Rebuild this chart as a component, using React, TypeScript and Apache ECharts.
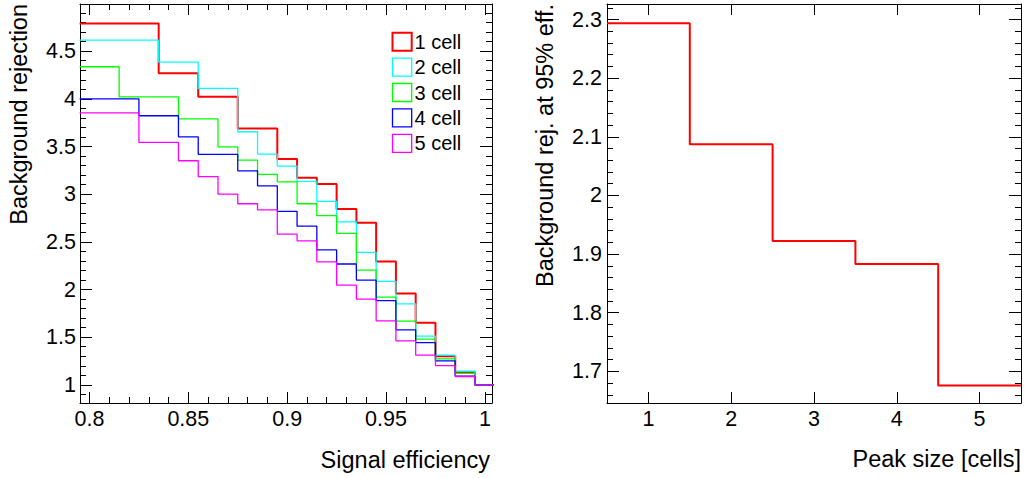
import React, { useEffect, useRef } from "react";
import * as echarts from "echarts";

// ---- data ----
const effBins = [0.8, 0.81, 0.82, 0.83, 0.84, 0.85, 0.86, 0.87, 0.88, 0.89, 0.9, 0.91, 0.92, 0.93, 0.94, 0.95, 0.96, 0.97, 0.98, 0.99, 1.0];
const cellNames = ["1 cell", "2 cell", "3 cell", "4 cell", "5 cell"];
const cellColors = ["#ff0000", "#00ffff", "#00ff00", "#0000ff", "#ff00ff"];
const rej1Cell = [4.79, 4.79, 4.79, 4.79, 4.268, 4.268, 4.022, 4.022, 3.69, 3.69, 3.368, 3.172, 3.106, 2.844, 2.7, 2.295, 1.959, 1.651, 1.301, 1.133, 1.0];
const rej2Cell = [4.617, 4.617, 4.617, 4.617, 4.386, 4.386, 4.11, 4.11, 3.655, 3.42, 3.295, 3.135, 2.925, 2.71, 2.39, 2.085, 1.85, 1.512, 1.312, 1.144, 1.0];
const rej3Cell = [4.337, 4.337, 4.02, 4.02, 4.02, 3.79, 3.79, 3.497, 3.358, 3.208, 3.13, 2.9, 2.775, 2.59, 2.204, 1.92, 1.668, 1.48, 1.273, 1.12, 1.0];
const rej4Cell = [4.0, 4.0, 4.0, 3.823, 3.823, 3.602, 3.418, 3.418, 3.245, 3.088, 2.82, 2.665, 2.417, 2.268, 2.099, 1.883, 1.578, 1.443, 1.252, 1.091, 1.0];
const rej5Cell = [3.854, 3.854, 3.854, 3.543, 3.543, 3.351, 3.185, 3.0, 2.9, 2.835, 2.581, 2.511, 2.291, 2.046, 1.9, 1.672, 1.462, 1.312, 1.203, 1.088, 1.0];
const cellSeries = [rej1Cell, rej2Cell, rej3Cell, rej4Cell, rej5Cell];
const effBinWidth = 0.01;

const peakSizes = [1, 2, 3, 4, 5];
const rejAt95 = [2.2935, 2.0875, 1.9225, 1.883, 1.676];
const peakBinWidth = 1;

const FONT = "'Liberation Sans', Arial, Helvetica, sans-serif";

function histSteps(centers: number[], values: number[], w: number) {
  const pts: number[][] = centers.map((c, i) => [c - w / 2, values[i]]);
  const last = centers.length - 1;
  pts.push([centers[last] + w / 2, values[last]]);
  return pts;
}

const roundFmt = (k: number) => (v: number) => {
  const r = Math.round(v * k) / k;
  return Math.abs(v - r) < 1e-6 ? String(r) : "";
};

export default function App() {
  const ref = useRef<HTMLDivElement>(null);
  useEffect(() => {
    if (!ref.current) return;
    const chart = echarts.init(ref.current, null, { renderer: "svg" });

    const axisLine = { show: true, lineStyle: { color: "#000", width: 1 } };
    const mkAxis = (o: any) => ({
      type: "value",
      scale: true,
      splitLine: { show: false },
      axisLine,
      ...o,
    });
    const labelStyle = { color: "#000", fontSize: 21.5, fontFamily: FONT };

    const xTicks = { show: true, inside: true, length: 11, lineStyle: { color: "#000", width: 1 } };
    const yTicks = { show: true, inside: true, length: 12, lineStyle: { color: "#000", width: 1 } };
    const minor = { show: true, splitNumber: 5, length: 6, lineStyle: { color: "#000", width: 1 } };

    const effRange = { min: 0.7952, max: 1.0036, splitNumber: 4 };
    const rejRange = { min: 0.81, max: 4.995, splitNumber: 8 };
    const peakRange = { min: 0.5, max: 5.5, splitNumber: 5 };
    const rej95Range = { min: 1.646, max: 2.3265, splitNumber: 7 };

    const legendGraphics: any[] = [];
    cellNames.forEach((name, i) => {
      const top = 32.7 + i * 25.4;
      legendGraphics.push({
        type: "rect",
        shape: { x: 392.5, y: top, width: 19.2, height: 18 },
        style: { fill: "none", stroke: cellColors[i], lineWidth: i === 0 ? 2 : 1.3 },
      });
      legendGraphics.push({
        type: "text",
        x: 414.5,
        y: top + 9,
        style: { text: name, fill: "#000", font: `20px ${FONT}`, textAlign: "left", textVerticalAlign: "middle" },
      });
    });

    const titleFont = `23.5px ${FONT}`;

    const option: any = {
      animation: false,
      backgroundColor: "#fff",
      grid: [
        { left: 80, top: 4, width: 412, height: 399, outerBoundsMode: "none", containLabel: false },
        { left: 607, top: 4, width: 414, height: 399, outerBoundsMode: "none", containLabel: false },
      ],
      xAxis: [
        mkAxis({ gridIndex: 0, position: "bottom", ...effRange, axisTick: xTicks, minorTick: minor,
          axisLabel: { ...labelStyle, margin: 5, formatter: roundFmt(20), showMinLabel: true, showMaxLabel: true } }),
        mkAxis({ gridIndex: 0, position: "top", ...effRange, axisTick: xTicks, minorTick: minor, axisLabel: { show: false } }),
        mkAxis({ gridIndex: 1, position: "bottom", ...peakRange, axisTick: xTicks,
          axisLabel: { ...labelStyle, margin: 5, formatter: roundFmt(1) } }),
        mkAxis({ gridIndex: 1, position: "top", ...peakRange, axisTick: xTicks, axisLabel: { show: false } }),
      ],
      yAxis: [
        mkAxis({ gridIndex: 0, position: "left", ...rejRange, axisTick: yTicks, minorTick: minor,
          axisLabel: { ...labelStyle, margin: 4, formatter: roundFmt(2) } }),
        mkAxis({ gridIndex: 0, position: "right", ...rejRange, axisTick: yTicks, minorTick: minor, axisLabel: { show: false } }),
        mkAxis({ gridIndex: 1, position: "left", ...rej95Range, axisTick: yTicks, minorTick: minor,
          axisLabel: { ...labelStyle, margin: 5, formatter: roundFmt(10) } }),
        mkAxis({ gridIndex: 1, position: "right", ...rej95Range, axisTick: yTicks, minorTick: minor, axisLabel: { show: false } }),
      ],
      series: [
        ...cellSeries.map((vals, i) => ({
          type: "line",
          name: cellNames[i],
          xAxisIndex: 0,
          yAxisIndex: 0,
          step: "end",
          symbol: "none",
          clip: true,
          data: histSteps(effBins, vals, effBinWidth),
          lineStyle: { color: cellColors[i], width: i === 0 ? 2 : 1.3 },
          z: 2 + i,
        })),
        {
          type: "line",
          name: "rej95",
          xAxisIndex: 2,
          yAxisIndex: 2,
          step: "end",
          symbol: "none",
          clip: true,
          data: histSteps(peakSizes, rejAt95, peakBinWidth),
          lineStyle: { color: "#ff0000", width: 2 },
        },
      ],
      graphic: [
        {
          type: "text", x: 490, y: 460,
          style: { text: "Signal efficiency", fill: "#000", font: titleFont, textAlign: "right", textVerticalAlign: "middle" },
        },
        {
          type: "text", x: 1021, y: 459,
          style: { text: "Peak size [cells]", fill: "#000", font: titleFont, textAlign: "right", textVerticalAlign: "middle" },
        },
        {
          type: "text", x: 19, y: 4, rotation: Math.PI / 2,
          style: { text: "Background rejection", fill: "#000", font: titleFont, textAlign: "right", textVerticalAlign: "middle" },
        },
        {
          type: "text", x: 545, y: 4, rotation: Math.PI / 2,
          style: { text: "Background rej. at 95% eff.", fill: "#000", font: titleFont, textAlign: "right", textVerticalAlign: "middle" },
        },
        ...legendGraphics,
      ],
    };
    chart.setOption(option);
    return () => chart.dispose();
  }, []);

  return (
    <div
      ref={ref}
      style={{ position: "fixed", left: 0, top: 0, width: 1026, height: 478, background: "#fff" }}
    />
  );
}
